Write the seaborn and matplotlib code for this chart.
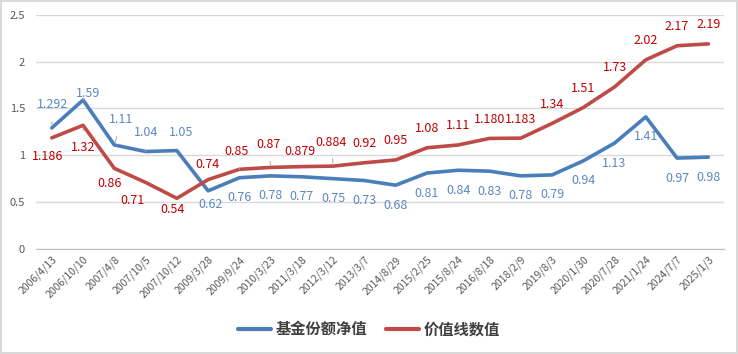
import matplotlib
matplotlib.use("Agg")
import matplotlib.pyplot as plt
import seaborn as sns
import pandas as pd

dates = ["2006/4/13", "2006/10/10", "2007/4/8", "2007/10/5", "2007/10/12",
         "2009/3/28", "2009/9/24", "2010/3/23", "2011/3/18", "2012/3/12",
         "2013/3/7", "2014/8/29", "2015/2/25", "2015/8/24", "2016/8/18",
         "2018/2/9", "2019/8/3", "2020/1/30", "2020/7/28", "2021/1/24",
         "2024/7/7", "2025/1/3"]
nav = [1.292, 1.59, 1.11, 1.04, 1.05, 0.62, 0.76, 0.78, 0.77, 0.75, 0.73,
       0.68, 0.81, 0.84, 0.83, 0.78, 0.79, 0.94, 1.13, 1.41, 0.97, 0.98]
nav_labels = ["1.292", "1.59", "1.11", "1.04", "1.05", "0.62", "0.76", "0.78",
              "0.77", "0.75", "0.73", "0.68", "0.81", "0.84", "0.83", "0.78",
              "0.79", "0.94", "1.13", "1.41", "0.97", "0.98"]
value_line = [1.186, 1.32, 0.86, 0.71, 0.54, 0.74, 0.85, 0.87, 0.879, 0.884,
              0.92, 0.95, 1.08, 1.11, 1.180, 1.183, 1.34, 1.51, 1.73, 2.02,
              2.17, 2.19]
value_labels = ["1.186", "1.32", "0.86", "0.71", "0.54", "0.74", "0.85", "0.87",
                "0.879", "0.884", "0.92", "0.95", "1.08", "1.11", "1.180",
                "1.183", "1.34", "1.51", "1.73", "2.02", "2.17", "2.19"]
series_names = ["基金份额净值", "价值线数值"]

# label offsets in pixels (dx, dy; dy positive = down) and leader-line flags
nav_off = [(1, -23), (5, -7), (7, -25), (1, -19), (4, -18)] + [(0, 20)] * 17
nav_off[5] = (2, 14)
nav_lead = [0, 1, 2, 3]
val_off = [(-4, 19), (0, 22), (-5, 15), (-13, 18), (-4, 11), (-1, -15),
           (-3, -18), (-2, -23), (-2, -15), (-2, -24)] + [(0, -19)] * 12
val_lead = [1, 6, 7, 9]

BLUE = "#4A7EBB"
RED = "#BE4B48"
BLUE_TXT = "#5B88C0"
RED_TXT = "#C00000"

sns.set_style("white")
plt.rcParams["font.family"] = ["Noto Sans CJK SC", "DejaVu Sans"]

df = pd.DataFrame({
    "x": list(range(len(dates))) * 2,
    "y": nav + value_line,
    "series": [series_names[0]] * len(dates) + [series_names[1]] * len(dates),
})

fig = plt.figure(figsize=(7.38, 3.54), dpi=100)
fig.patch.set_edgecolor("#D9D9D9")
fig.patch.set_linewidth(1.5)
ax = fig.add_axes([0.049, 0.297, 0.932, 0.661])

sns.lineplot(data=df, x="x", y="y", hue="series", palette=[BLUE, RED],
             lw=2.6, sort=False, ax=ax, legend=True)

ax.set_xlim(-0.5, len(dates) - 0.5)
ax.set_ylim(0, 2.5)
ax.set_yticks([0, 0.5, 1, 1.5, 2, 2.5])
ax.set_yticklabels(["0", "0.5", "1", "1.5", "2", "2.5"])
ax.grid(axis="y", color="#D9D9D9", lw=1)
ax.set_axisbelow(True)
for s in ["top", "right", "left"]:
    ax.spines[s].set_visible(False)
ax.spines["bottom"].set_color("#BFBFBF")

ax.set_xticks(range(len(dates)))
ax.set_xticklabels(dates, rotation=45, ha="right", rotation_mode="anchor",
                   fontsize=7.5, color="#595959")
ax.set_xticks([i - 0.5 for i in range(len(dates) + 1)], minor=True)
ax.tick_params(axis="x", which="major", length=0, pad=4)
ax.tick_params(axis="x", which="minor", length=5, color="#BFBFBF")
ax.tick_params(axis="y", length=0, labelsize=8, labelcolor="#595959", pad=8)
ax.set_xlabel("")
ax.set_ylabel("")


def put_labels(vals, texts, offs, leads, color):
    for i, (v, t, (dx, dy)) in enumerate(zip(vals, texts, offs)):
        ap = None
        if i in leads:
            ap = dict(arrowstyle="-", color="#A6A6A6", lw=0.7, shrinkA=5, shrinkB=2)
        ax.annotate(t, (i, v), xytext=(dx * 0.72, -dy * 0.72),
                    textcoords="offset points", ha="center", va="center",
                    fontsize=9, color=color, arrowprops=ap)


put_labels(nav, nav_labels, nav_off, nav_lead, BLUE_TXT)
put_labels(value_line, value_labels, val_off, val_lead, RED_TXT)

leg = ax.legend(loc="center", bbox_to_anchor=(0.5, 0.07),
                bbox_transform=fig.transFigure, ncol=2, frameon=False,
                handlelength=2.2, handletextpad=0.3, columnspacing=1.2,
                prop={"size": 11, "weight": "bold"})
for h in leg.get_lines():
    h.set_linewidth(3)
for t in leg.get_texts():
    t.set_color("#404040")

fig.savefig("out.png", dpi=100, edgecolor=fig.get_edgecolor())
